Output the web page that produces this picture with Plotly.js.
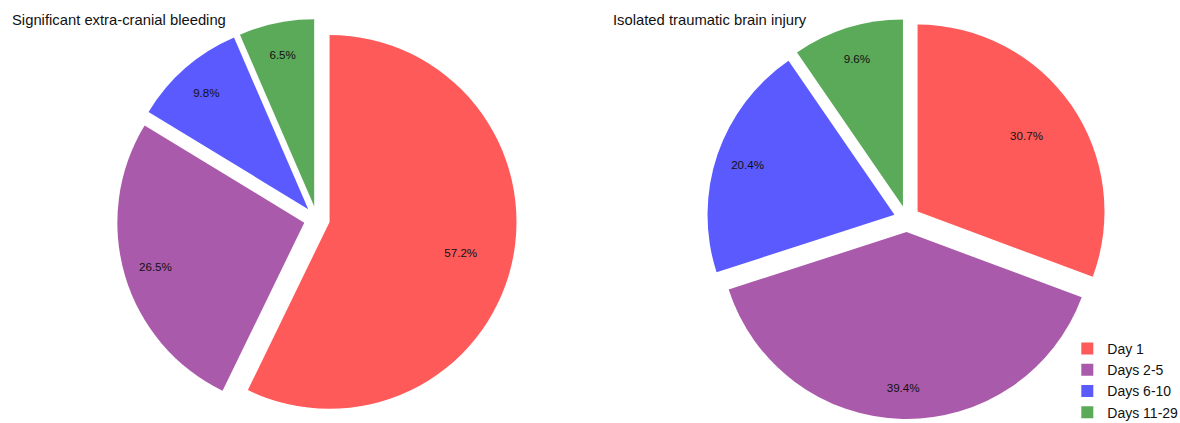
<!DOCTYPE html>
<html><head><meta charset="utf-8">
<script src="https://cdn.plot.ly/plotly-3.0.1.min.js"></script>
<style>html,body{margin:0;padding:0;background:#fff}</style>
</head><body><div id="chart" style="width:1180px;height:423px"></div>
<script>
const categories = ["Day 1", "Days 2-5", "Days 6-10", "Days 11-29"];
const bleedingValues = [57.2, 26.5, 9.8, 6.5];
const tbiValues = [30.7, 39.4, 20.4, 9.6];
const panelTitles = ["Significant extra-cranial bleeding", "Isolated traumatic brain injury"];
const colors = ["rgb(255,90,90)", "rgb(170,90,170)", "rgb(90,90,255)", "rgb(90,170,90)"];

const PULL = 0.07;
const FONT = "Liberation Sans, Arial, sans-serif";
const LABEL = "%{value:.1f}%";

function basePie(values, domainX, showLegend) {
  return {
    type: "pie", labels: categories, values: values,
    sort: false, direction: "clockwise", rotation: 0,
    pull: categories.map(() => PULL),
    marker: {colors: colors, line: {width: 0}},
    textinfo: "none",
    domain: {x: domainX, y: [0, 1]},
    showlegend: showLegend
  };
}
// transparent overlay used only to place the percentage labels further out
function labelPie(values, domainX, hole, showIdx) {
  return {
    type: "pie", labels: categories, values: values,
    sort: false, direction: "clockwise", rotation: 0, hole: hole,
    pull: categories.map(() => PULL),
    marker: {colors: categories.map(() => "rgba(0,0,0,0)"), line: {width: 0}},
    texttemplate: categories.map((c, i) => showIdx.includes(i) ? LABEL : " "),
    textposition: "inside",
    insidetextorientation: "horizontal",
    textfont: {family: FONT, size: 11.6, color: "#111"},
    hoverinfo: "skip",
    domain: {x: domainX, y: [0, 1]},
    showlegend: false
  };
}

const leftDom = [0.099, 0.438];
const rightDom = [0.599, 0.938];
const data = [
  basePie(bleedingValues, leftDom, true),
  basePie(tbiValues, rightDom, false),
  labelPie(bleedingValues, leftDom, 0.66, [1, 2, 3]),
  labelPie(bleedingValues, leftDom, 0.44, [0]),
  labelPie(tbiValues, rightDom, 0.66, [1, 2, 3]),
  labelPie(tbiValues, rightDom, 0.42, [0])
];

const titlePos = [[10, 20], [611, 20]];
const layout = {
  width: 1180, height: 423,
  margin: {l: 0, r: 0, t: 19, b: 4, autoexpand: false},
  paper_bgcolor: "#fff",
  font: {family: FONT, color: "#111"},
  showlegend: true,
  legend: {
    x: 0.9045, xanchor: "left",
    y: 0.215, yanchor: "top",
    font: {size: 14, color: "#111"},
    itemwidth: 30,
    tracegroupgap: 0,
    bgcolor: "rgba(0,0,0,0)"
  },
  annotations: panelTitles.map((t, i) => ({
    text: t, xref: "paper", yref: "paper",
    x: titlePos[i][0] / 1180, y: (419 - titlePos[i][1]) / 400,
    xanchor: "left", yanchor: "middle", showarrow: false,
    font: {size: 14.8, color: "#111"}
  }))
};

Plotly.newPlot("chart", data, layout, {displayModeBar: false, staticPlot: true});
</script>
</body></html>
